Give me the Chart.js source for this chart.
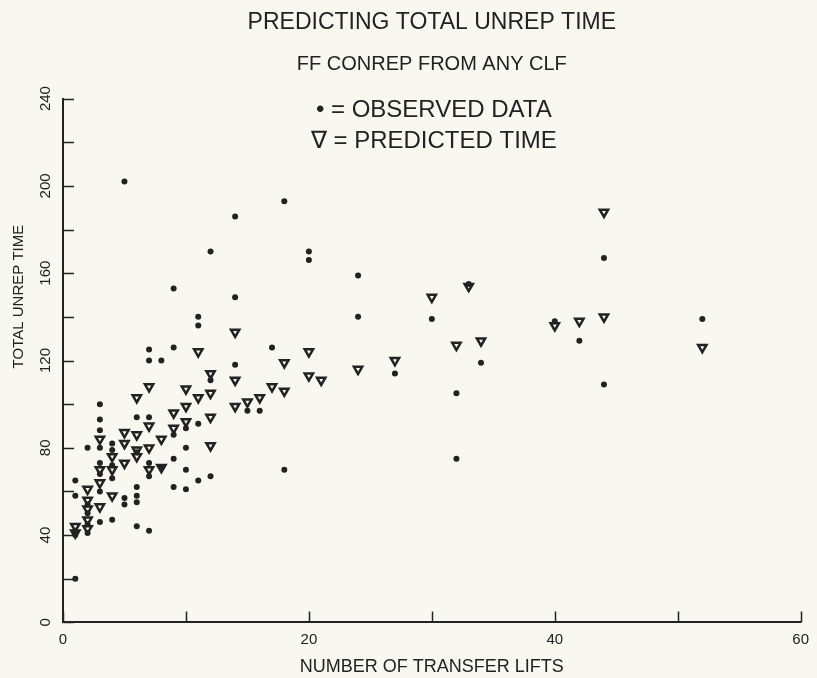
<!DOCTYPE html>
<html>
<head>
<meta charset="utf-8">
<title>Predicting total unrep time</title>
<script src="https://cdn.jsdelivr.net/npm/chart.js@4.4.1/dist/chart.umd.min.js"></script>
<style>
  html, body { margin: 0; padding: 0; background: #f8f8f0; }
  canvas { display: block; }
</style>
</head>
<body>
<canvas id="mycanvas" width="817" height="678"></canvas>
<script>
// observed data (dots) - x = number of transfer lifts, y = total unrep time
var observedX = [1, 1, 1, 1, 1,
  2, 2, 2, 2, 2,
  3, 3, 3, 3, 3, 3, 3, 3,
  4, 4, 4, 4, 4,
  5, 5, 5,
  6, 6, 6, 6, 6, 6,
  7, 7, 7, 7, 7, 7,
  8, 8,
  9, 9, 9, 9, 9,
  10, 10, 10, 10,
  11, 11, 11, 11,
  12, 12, 12,
  14, 14, 14,
  15, 16, 17, 18, 18, 20, 20, 24, 24, 27, 30, 32, 32, 33, 34, 40, 42, 44, 44, 52];
var observedY = [65, 58, 42, 40, 20,
  80, 54, 50, 45, 41,
  100, 93, 88, 80, 73, 68, 60, 46,
  82, 79, 72, 66, 47,
  202, 57, 54,
  94, 78, 62, 58, 55, 44,
  125, 120, 94, 73, 67, 42,
  120, 71,
  153, 126, 86, 75, 62,
  89, 80, 70, 61,
  140, 136, 91, 65,
  170, 111, 67,
  186, 149, 118,
  97, 97, 126, 193, 70, 170, 166, 159, 140, 114, 139, 105, 75, 155, 119, 138, 129, 167, 109, 139];

// predicted time (triangles)
var predictedX = [1, 1,
  2, 2, 2, 2, 2,
  3, 3, 3, 3,
  4, 4, 4,
  5, 5, 5,
  6, 6, 6, 6,
  7, 7, 7, 7,
  8, 8,
  9, 9,
  10, 10, 10,
  11, 11,
  12, 12, 12, 12,
  14, 14, 14,
  15, 16, 17, 18, 18, 20, 20, 21, 24, 27, 30, 32, 33, 34, 40, 42, 44, 44, 52];
var predictedY = [44, 41,
  61, 56, 52, 47, 43,
  84, 70, 64, 53,
  76, 70, 58,
  87, 82, 73,
  103, 86, 79, 76,
  108, 90, 80, 70,
  84, 71,
  96, 89,
  107, 99, 92,
  124, 103,
  114, 105, 94, 81,
  133, 111, 99,
  101, 103, 108, 119, 106, 124, 113, 111, 116, 120, 149, 127, 154, 129, 136, 138, 188, 140, 126];

var titleText = 'PREDICTING TOTAL UNREP TIME';
var subtitleText = 'FF CONREP FROM ANY CLF';
var legendLines = ['\u2022 = OBSERVED DATA', '\u2207 = PREDICTED TIME'];
var xTitle = 'NUMBER OF TRANSFER LIFTS';
var yTitle = 'TOTAL UNREP TIME';

var ink = '#222222';
var paper = '#f8f8f0';
var fontName = "'Liberation Sans', Arial, sans-serif";

function toPoints(xs, ys) {
  var pts = [];
  for (var i = 0; i < xs.length; i++) {
    pts.push({x: xs[i], y: ys[i]});
  }
  return pts;
}

// ticks pointing into the plot, like the old plotter output
var inwardTicks = {
  id: 'inwardTicks',
  afterDraw: function(chart) {
    var ctx = chart.ctx;
    var xs = chart.scales.x, ys = chart.scales.y;
    var len = 11;
    ctx.save();
    ctx.strokeStyle = ink;
    ctx.lineWidth = 1.5;
    ctx.beginPath();
    xs.ticks.forEach(function(t) {
      var px = Math.round(xs.getPixelForValue(t.value)) + 0.5;
      ctx.moveTo(px, ys.bottom);
      ctx.lineTo(px, ys.bottom - len);
    });
    ys.ticks.forEach(function(t) {
      var py = Math.round(ys.getPixelForValue(t.value)) + 0.5;
      ctx.moveTo(xs.left, py);
      ctx.lineTo(xs.left + len, py);
    });
    ctx.stroke();
    ctx.restore();
  }
};

// legend text inside the plot + off-centre y axis title
var annotations = {
  id: 'annotations',
  afterDraw: function(chart) {
    var ctx = chart.ctx;
    var area = chart.chartArea;
    ctx.save();
    ctx.fillStyle = ink;
    ctx.textBaseline = 'middle';
    ctx.textAlign = 'center';
    ctx.font = '24px ' + fontName;
    var cx = (area.left + area.right) / 2 + 2;
    ctx.fillText(legendLines[0], cx, area.top + 12);
    ctx.fillText(legendLines[1], cx, area.top + 43);

    ctx.font = '15px ' + fontName;
    ctx.translate(19, area.top + (area.bottom - area.top) * 0.378);
    ctx.rotate(-Math.PI / 2);
    ctx.fillText(yTitle, 0, 0);
    ctx.restore();
  }
};

Chart.defaults.font.family = fontName;
Chart.defaults.color = ink;

var ctx = document.getElementById('mycanvas');
var barGraph = new Chart(ctx, {
  type: 'scatter',
  data: {
    datasets: [
      {
        label: 'OBSERVED DATA',
        data: toPoints(observedX, observedY),
        pointStyle: 'circle',
        pointRadius: 3,
        pointHoverRadius: 3,
        backgroundColor: ink,
        borderColor: ink,
        borderWidth: 0,
        order: 0
      },
      {
        label: 'PREDICTED TIME',
        data: toPoints(predictedX, predictedY),
        pointStyle: 'triangle',
        pointRotation: 180,
        pointRadius: 4.8,
        pointHoverRadius: 4.8,
        backgroundColor: paper,
        borderColor: ink,
        borderWidth: 2.5,
        order: 1
      }
    ]
  },
  options: {
    responsive: false,
    animation: false,
    layout: {
      padding: {left: 36, right: 11, top: 0, bottom: 0}
    },
    plugins: {
      legend: {display: false},
      tooltip: {enabled: false},
      title: {
        display: true,
        text: titleText,
        fullSize: false,
        font: {size: 23, weight: 'normal'},
        color: ink,
        padding: {top: 9, bottom: 16}
      },
      subtitle: {
        display: true,
        text: subtitleText,
        fullSize: false,
        font: {size: 20, weight: 'normal'},
        color: ink,
        padding: {top: 0, bottom: 22}
      }
    },
    scales: {
      x: {
        type: 'linear',
        min: 0,
        max: 60,
        grid: {display: true, drawOnChartArea: false, drawTicks: false},
        border: {display: true, color: ink, width: 2},
        ticks: {
          stepSize: 10,
          padding: 8,
          font: {size: 15},
          color: ink,
          callback: function(v) { return v % 20 === 0 ? v : ''; }
        },
        title: {
          display: true,
          text: xTitle,
          font: {size: 18},
          color: ink,
          padding: {top: 0, bottom: 0}
        }
      },
      y: {
        type: 'linear',
        min: 0,
        max: 240,
        grid: {display: true, drawOnChartArea: false, drawTicks: false},
        border: {display: true, color: ink, width: 2},
        ticks: {
          stepSize: 20,
          padding: 4.5,
          minRotation: 90,
          maxRotation: 90,
          crossAlign: 'center',
          font: {size: 15},
          color: ink,
          callback: function(v) { return v % 40 === 0 ? v : ''; }
        },
        title: {display: false}
      }
    }
  },
  plugins: [inwardTicks, annotations]
});
</script>
</body>
</html>
